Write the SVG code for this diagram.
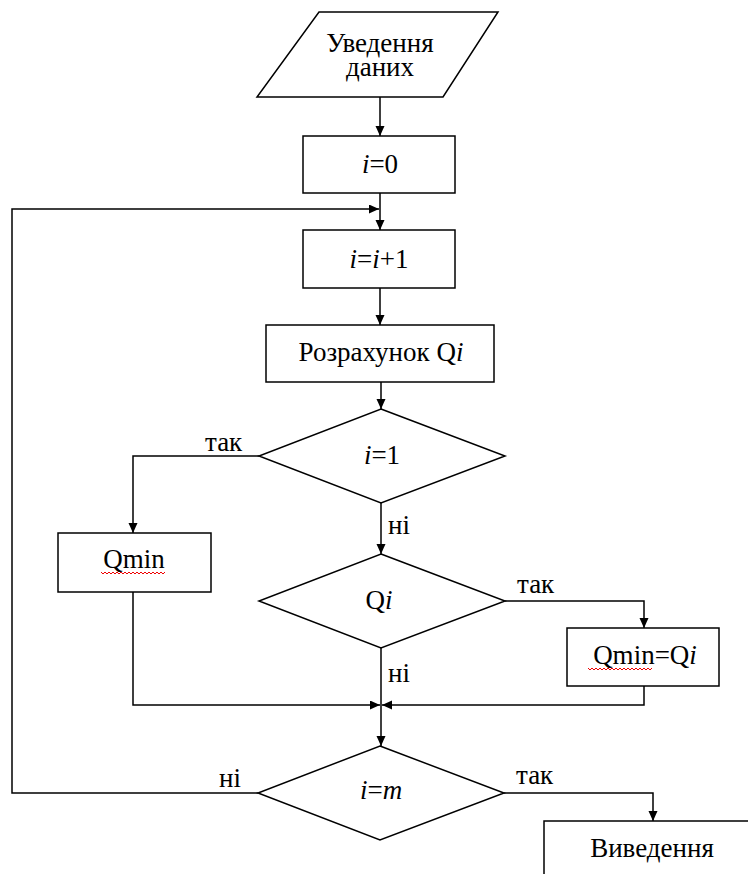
<svg xmlns="http://www.w3.org/2000/svg" width="748" height="874" viewBox="0 0 748 874">
<style>
.s{fill:#fff;stroke:#000;stroke-width:1.5}
.c{fill:none;stroke:#000;stroke-width:1.5}
text{font-family:'Liberation Serif','Times New Roman','DejaVu Serif',serif;font-size:27px;fill:#000}
.m{text-anchor:middle}
.it{font-style:italic}
.sq{fill:none;stroke:#e00;stroke-width:1}
</style>
<defs>
<marker id="a" markerUnits="userSpaceOnUse" markerWidth="10" markerHeight="10" refX="10" refY="4.5" orient="auto">
<path d="M0,0 L10,4.5 L0,9 z" fill="#000"/>
</marker>
</defs>
<rect width="748" height="874" fill="#fff"/>
<g id="connectors">
<path class="c" d="M380,97 V136" marker-end="url(#a)"/>
<path class="c" d="M380,193 V230" marker-end="url(#a)"/>
<path class="c" d="M258,793 H12 V209 H379" marker-end="url(#a)"/>
<path class="c" d="M380,288 V325" marker-end="url(#a)"/>
<path class="c" d="M381,382 V409" marker-end="url(#a)"/>
<path class="c" d="M259,456 H133 V533" marker-end="url(#a)"/>
<path class="c" d="M381,503 V554" marker-end="url(#a)"/>
<path class="c" d="M505,601 H644 V628" marker-end="url(#a)"/>
<path class="c" d="M133,592 V705 H380" marker-end="url(#a)"/>
<path class="c" d="M381,648 V746" marker-end="url(#a)"/>
<path class="c" d="M644,686 V705 H382" marker-end="url(#a)"/>
<path class="c" d="M504,793 H653 V821" marker-end="url(#a)"/>
<text x="205" y="451" font-family="Liberation Serif, serif">так</text>
<text x="388" y="534" font-family="Liberation Serif, serif">ні</text>
<text x="517" y="593" font-family="Liberation Serif, serif">так</text>
<text x="388" y="682" font-family="Liberation Serif, serif">ні</text>
<text x="219" y="787" font-family="Liberation Serif, serif">ні</text>
<text x="516" y="784" font-family="Liberation Serif, serif">так</text>
</g>
<g id="input">
<polygon class="s" points="319,12 498,12 443,97 257,97"/>
<text class="m" x="380" y="52">Уведення</text>
<text class="m" x="380" y="76">даних</text>
</g>
<g id="init">
<rect class="s" x="303" y="136" width="152" height="57"/>
<text class="m" x="380" y="173"><tspan class="it">i</tspan>=0</text>
</g>
<g id="incr">
<rect class="s" x="303" y="230" width="152" height="58"/>
<text class="m" x="379" y="268"><tspan class="it">i</tspan>=<tspan class="it">i</tspan>+1</text>
</g>
<g id="calc">
<rect class="s" x="266" y="325" width="228" height="57"/>
<text class="m" x="381" y="361">Розрахунок Q<tspan class="it">i</tspan></text>
</g>
<g id="cond1">
<polygon class="s" points="381,409 505,456 381,503 259,456"/>
<text class="m" x="382" y="464"><tspan class="it">i</tspan>=1</text>
</g>
<g id="qmin">
<rect class="s" x="58" y="533" width="153" height="59"/>
<text class="m" x="134" y="568">Qmin</text>
<path class="sq" d="M101,572 l2,2 l2,-2 l2,2 l2,-2 l2,2 l2,-2 l2,2 l2,-2 l2,2 l2,-2 l2,2 l2,-2 l2,2 l2,-2 l2,2 l2,-2 l2,2 l2,-2 l2,2 l2,-2 l2,2 l2,-2 l2,2 l2,-2 l2,2 l2,-2 l2,2 l2,-2 l2,2 l2,-2 l2,2 l2,-2"/>
</g>
<g id="cond2">
<polygon class="s" points="381,554 505,601 381,648 259,601"/>
<text class="m" x="379" y="609">Q<tspan class="it">i</tspan></text>
</g>
<g id="assign">
<rect class="s" x="567" y="628" width="152" height="58"/>
<text class="m" x="645" y="664">Qmin=Q<tspan class="it">i</tspan></text>
<path class="sq" d="M588,668 l2,2 l2,-2 l2,2 l2,-2 l2,2 l2,-2 l2,2 l2,-2 l2,2 l2,-2 l2,2 l2,-2 l2,2 l2,-2 l2,2 l2,-2 l2,2 l2,-2 l2,2 l2,-2 l2,2 l2,-2 l2,2 l2,-2 l2,2 l2,-2 l2,2 l2,-2 l2,2 l2,-2 l2,2 l2,-2"/>
</g>
<g id="cond3">
<polygon class="s" points="380,746 504,793 380,840 258,793"/>
<text class="m" x="381" y="799"><tspan class="it">i</tspan>=<tspan class="it">m</tspan></text>
</g>
<g id="output">
<rect class="s" x="544" y="821" width="220" height="70"/>
<text class="m" x="652" y="857">Виведення</text>
</g>
</svg>
